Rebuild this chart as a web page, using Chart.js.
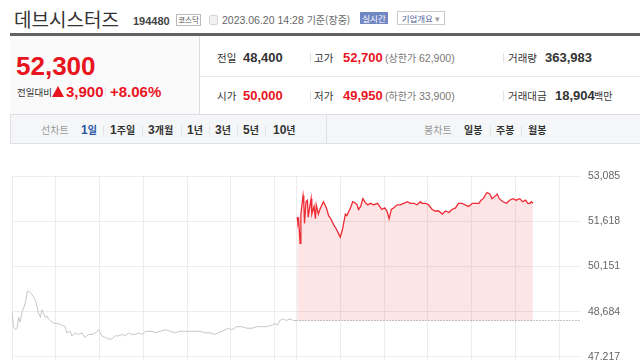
<!DOCTYPE html>
<html lang="ko">
<head>
<meta charset="utf-8">
<title>데브시스터즈 194480</title>
<script src="https://cdn.jsdelivr.net/npm/chart.js@4.4.0/dist/chart.umd.min.js"></script>
<style>
    html, body { margin: 0; padding: 0; }
    body {
        width: 640px; height: 360px; overflow: hidden; position: relative; background: #fff;
        font-family: "Liberation Sans", Arial, "Noto Sans CJK KR", sans-serif; color: #333;
    }
    .a { position: absolute; white-space: nowrap; }
    .k { font-family: "Noto Sans CJK KR", sans-serif; }
    .red { color: #e8141e; }
    .row1 { top: 49.5px; line-height: 16px; }
    .row2 { top: 87.5px; line-height: 16px; }
    .lbl { font-family: "Noto Sans CJK KR", sans-serif; font-size: 10.5px; color: #333; }
    .val { font-size: 13px; font-weight: bold; }
    .sub { font-size: 10.5px; color: #777; }
    .sub .k { font-size: 10px; }
    .sep { position: absolute; width: 1px; background: #e2e2e2; }
    .tab { top: 122px; line-height: 16px; font-size: 12px; font-weight: bold; color: #333; }
    .tab .k { font-size: 10px; }
    .tab.off { font-family: "Noto Sans CJK KR", sans-serif; font-size: 10px; font-weight: normal; color: #999; }
    #chartBox { position: absolute; left: 0; top: 150px; width: 640px; height: 214px; }
</style>
</head>
<body>
    <!-- title bar -->
    <div class="a k" style="left:14px; top:8px; font-size:19px; line-height:22px; color:#333;">데브시스터즈</div>
    <div class="a" style="left:133px; top:15px; font-size:11px; line-height:12px; font-weight:bold; color:#444;">194480</div>
    <div class="a k" style="left:176px; top:14px; width:23px; height:10px; border:1px solid #bbb; font-size:7.5px; line-height:10px; text-align:center; color:#555;">코스닥</div>
    <div class="a" style="left:209px; top:15px; width:7px; height:8px; border:1px solid #d4d4d4; border-radius:2px; background:#f2f2f2;"></div>
    <div class="a" style="left:222px; top:14px; font-size:10.5px; line-height:12px; color:#666;">2023.06.20 14:28 <span class="k" style="font-size:10px;">기준(장중)</span></div>
    <div class="a k" style="left:360px; top:12px; width:28px; height:12px; background:#7187c3; color:#fff; font-size:8.5px; line-height:12px; text-align:center;">실시간</div>
    <div class="a k" style="left:397px; top:11px; width:46px; height:12px; border:1px solid #c9c9c9; color:#50609a; font-size:8.5px; line-height:12px; text-align:center;">기업개요 <span style="color:#999;">▾</span></div>
    <div class="a" style="left:10px; top:33px; width:630px; height:3px; background:#626262;"></div>

    <!-- current price panel -->
    <div class="a" style="left:10px; top:36px; width:189px; height:78px; background:#fafafa; border-right:1px solid #dedede;"></div>
    <div class="a red" style="left:16px; top:52px; font-size:26px; line-height:28px; font-weight:bold;">52,300</div>
    <div class="a k" style="left:17px; top:86px; font-size:9.5px; line-height:12px; color:#333;">전일대비</div>
    <div class="a" style="left:52px; top:86px; width:0; height:0; border-left:6.5px solid transparent; border-right:6.5px solid transparent; border-bottom:11px solid #e8141e;"></div>
    <div class="a red" style="left:66px; top:83px; font-size:15px; line-height:17px; font-weight:bold;">3,900</div>
    <div class="sep" style="left:105px; top:87px; height:10px;"></div>
    <div class="a red" style="left:110px; top:83px; font-size:15px; line-height:17px; font-weight:bold;">+8.06%</div>

    <!-- quote rows -->
    <div class="a" style="left:200px; top:76px; width:440px; height:1px; background:#e9e9e9;"></div>
    <div class="a lbl row1" style="left:217px;">전일</div>
    <div class="a val row1" style="left:243px;">48,400</div>
    <div class="sep" style="left:310px; top:53px; height:10px;"></div>
    <div class="a lbl row1" style="left:314px;">고가</div>
    <div class="a val red row1" style="left:343px;">52,700</div>
    <div class="a sub row1" style="left:385px;">(<span class="k">상한가</span> 62,900)</div>
    <div class="sep" style="left:503px; top:53px; height:10px;"></div>
    <div class="a lbl row1" style="left:508px;">거래량</div>
    <div class="a val row1" style="left:545px;">363,983</div>

    <div class="a lbl row2" style="left:217px;">시가</div>
    <div class="a val red row2" style="left:243px;">50,000</div>
    <div class="sep" style="left:310px; top:91px; height:10px;"></div>
    <div class="a lbl row2" style="left:314px;">저가</div>
    <div class="a val red row2" style="left:343px;">49,950</div>
    <div class="a sub row2" style="left:385px;">(<span class="k">하한가</span> 33,900)</div>
    <div class="sep" style="left:503px; top:91px; height:10px;"></div>
    <div class="a lbl row2" style="left:508px;">거래대금</div>
    <div class="a val row2" style="left:555px;">18,904</div>
    <div class="a k row2" style="left:594px; font-size:10px;">백만</div>

    <!-- period tabs -->
    <div class="a" style="left:10px; top:114px; width:629px; height:28px; background:#f5f6f8; border:1px solid #dfe0e3;"></div>
    <div class="sep" style="left:326px; top:115px; height:28px; background:#dfe0e3;"></div>
    <div class="a tab off" style="left:41px;">선차트</div>
    <div class="a tab" style="left:81px; color:#2753a4;">1<span class="k">일</span></div>
    <div class="sep" style="left:103px; top:126px; height:9px;"></div>
    <div class="a tab" style="left:110px;">1<span class="k">주일</span></div>
    <div class="sep" style="left:142px; top:126px; height:9px;"></div>
    <div class="a tab" style="left:148px;">3<span class="k">개월</span></div>
    <div class="sep" style="left:181px; top:126px; height:9px;"></div>
    <div class="a tab" style="left:187px;">1<span class="k">년</span></div>
    <div class="sep" style="left:209px; top:126px; height:9px;"></div>
    <div class="a tab" style="left:215px;">3<span class="k">년</span></div>
    <div class="sep" style="left:237px; top:126px; height:9px;"></div>
    <div class="a tab" style="left:243px;">5<span class="k">년</span></div>
    <div class="sep" style="left:265px; top:126px; height:9px;"></div>
    <div class="a tab" style="left:273px;">10<span class="k">년</span></div>

    <div class="a tab off" style="left:424px;">봉차트</div>
    <div class="a tab" style="left:464px;"><span class="k">일봉</span></div>
    <div class="sep" style="left:490px; top:126px; height:9px;"></div>
    <div class="a tab" style="left:496px;"><span class="k">주봉</span></div>
    <div class="sep" style="left:521px; top:126px; height:9px;"></div>
    <div class="a tab" style="left:528px;"><span class="k">월봉</span></div>

    <div id="chartBox"><canvas id="priceChart" width="640" height="214"></canvas></div>

<script>
'use strict';

// Previous session (09:00 - 15:30), minutes after 09:00 and price
const prevMinutes = [
    0, 2, 5, 7, 9, 11, 14, 16, 18, 21, 23, 25, 27, 30, 32, 34, 36, 39, 41, 43,
    46, 48, 50, 55, 59, 64, 68, 73, 75, 80, 82, 87, 91, 96, 100, 105, 110, 114, 119, 123,
    128, 132, 137, 141, 146, 151, 155, 160, 164, 169, 173, 178, 183, 192, 196, 203, 210, 217, 224, 230,
    237, 244, 251, 258, 265, 272, 278, 283, 288, 292, 297, 301, 308, 315, 322, 329, 335, 342, 349, 356,
    360, 364, 367, 372, 376, 381, 386, 390
];
const prevPrices = [
    48700, 48200, 48100, 48150, 48500, 48350, 48700, 48800, 48950, 49350, 49350, 49300, 49250, 49150, 49050, 48900, 48650, 48500, 48750, 48650,
    48500, 48550, 48450, 48350, 48300, 48300, 48250, 48200, 48000, 48050, 47900, 48000, 47950, 48000, 47850, 47950, 47950, 48000, 48100, 47900,
    47850, 47800, 47800, 47900, 47900, 47950, 47900, 48000, 47950, 47950, 48000, 47950, 48050, 48050, 48000, 48050, 48100, 48050, 48000, 48050,
    48050, 48050, 48050, 48050, 48000, 48000, 47950, 48000, 48050, 48100, 48150, 48100, 48200, 48200, 48150, 48150, 48200, 48200, 48200, 48250,
    48300, 48250, 48400, 48450, 48400, 48450, 48400, 48400
];

// Today's session, minutes after 09:00 and price
const todayMinutes = [
    1, 2, 3, 5, 6, 9, 10, 11, 13, 15, 16, 18, 20, 21, 24, 26, 27, 30, 32, 35,
    37, 41, 44, 47, 51, 55, 58, 60, 63, 65, 67, 69, 72, 74, 77, 81, 83, 85, 88, 91,
    95, 98, 101, 106, 111, 114, 117, 121, 124, 127, 130, 133, 138, 142, 147, 152, 156, 161, 165, 170,
    172, 177, 181, 186, 190, 195, 200, 204, 209, 213, 218, 222, 227, 231, 236, 241, 245, 250, 253, 256,
    261, 265, 268, 271, 275, 278, 283, 288, 292, 297, 301, 306, 310, 314, 317, 320, 322, 324
];
const todayPrices = [
    51750, 51550, 51650, 50900, 51850, 52450, 52200, 51550, 52250, 52300, 51750, 52050, 52350, 51850, 52100, 51700, 52150, 51850, 52000, 52150,
    52250, 52050, 51800, 51700, 51500, 51350, 51200, 51100, 51350, 51600, 51850, 51800, 51950, 52050, 52250, 52200, 52150, 52000, 52100, 52350,
    52200, 52150, 52200, 52150, 52200, 52100, 52000, 52050, 51950, 51700, 52000, 52050, 52150, 52150, 52200, 52250, 52200, 52200, 52150, 52250,
    52200, 52200, 52150, 52000, 51950, 51950, 51850, 51950, 51900, 52000, 52050, 52200, 52200, 52150, 52100, 52200, 52200, 52200, 52300, 52350,
    52550, 52500, 52350, 52400, 52500, 52350, 52250, 52200, 52300, 52350, 52300, 52350, 52250, 52300, 52200, 52200, 52250, 52200
];

const prevClose = 48400;
const yTickValues = [47217, 48684, 50151, 51618, 53085];
const hourMarks = [0, 60, 120, 180, 240, 300, 360];   // within one session
const SESSION_MINUTES = 390;

const PriceChart = {
    config: {
        selector: '#priceChart',
        colors: {
            grid: '#ededed',
            prev: '#c6c6c6',
            today: '#ee2a35',
            todayFill: 'rgba(238, 42, 53, 0.12)',
            base: '#8c8c8c',
            tick: '#666'
        }
    },

    init() {
        const canvas = document.querySelector(this.config.selector);
        if (!canvas) return;
        new Chart(canvas, this.buildConfig());
    },

    // two sessions on one axis: previous day, then today
    buildPoints() {
        const prev = prevMinutes.map((m, i) => ({ x: m, y: prevPrices[i] }));
        const today = todayMinutes.map((m, i) => ({ x: SESSION_MINUTES + m, y: todayPrices[i] }));
        const base = [
            { x: SESSION_MINUTES, y: prevClose },
            { x: SESSION_MINUTES * 2, y: prevClose }
        ];
        return { prev, today, base };
    },

    buildConfig() {
        const c = this.config.colors;
        const pts = this.buildPoints();
        const xTicks = hourMarks.concat(hourMarks.map(m => m + SESSION_MINUTES));

        return {
            type: 'line',
            data: {
                datasets: [
                    {
                        data: pts.prev,
                        borderColor: c.prev,
                        borderWidth: 1,
                        pointRadius: 0,
                        fill: false
                    },
                    {
                        data: pts.today,
                        borderColor: c.today,
                        borderWidth: 1.3,
                        pointRadius: 0,
                        fill: { value: prevClose },
                        backgroundColor: c.todayFill
                    },
                    {
                        data: pts.base,
                        borderColor: c.base,
                        borderWidth: 1,
                        borderDash: [1, 2],
                        pointRadius: 0,
                        fill: false
                    }
                ]
            },
            options: {
                responsive: false,
                animation: false,
                layout: { padding: { top: 26, left: 12, right: 1, bottom: 0 } },
                plugins: {
                    legend: { display: false },
                    tooltip: { enabled: false }
                },
                scales: {
                    x: {
                        type: 'linear',
                        min: 0,
                        max: SESSION_MINUTES * 2,
                        afterBuildTicks: (scale) => {
                            scale.ticks = xTicks.map(v => ({ value: v }));
                        },
                        afterFit: (scale) => { scale.height = 0; },
                        ticks: { display: false },
                        grid: { color: c.grid, drawTicks: false },
                        border: { display: false }
                    },
                    y: {
                        position: 'right',
                        min: 46990,
                        max: 53085,
                        afterBuildTicks: (scale) => {
                            scale.ticks = yTickValues.map(v => ({ value: v }));
                        },
                        afterFit: (scale) => {
                            scale.width = 58;
                            scale.paddingTop = 0;
                            scale.paddingBottom = 0;
                        },
                        ticks: {
                            padding: 7,
                            color: c.tick,
                            font: { family: '"Liberation Sans", Arial, sans-serif', size: 10.5 },
                            callback: (v) => Number(v).toLocaleString('en-US')
                        },
                        grid: { color: c.grid, drawTicks: false },
                        border: { display: false }
                    }
                }
            }
        };
    }
};

document.addEventListener('DOMContentLoaded', () => {
    PriceChart.init();
});
</script>
</body>
</html>
